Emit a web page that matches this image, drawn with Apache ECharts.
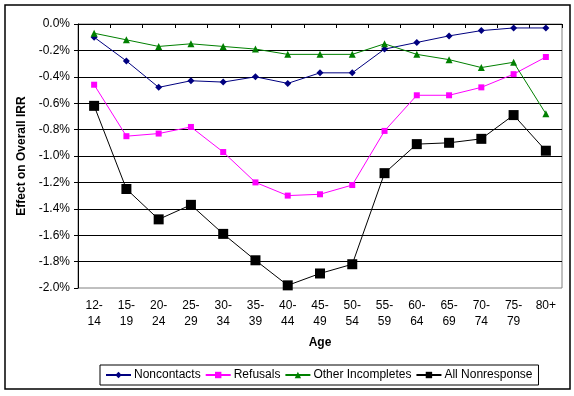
<!DOCTYPE html>
<html>
<head>
<meta charset="utf-8">
<script src="https://cdn.jsdelivr.net/npm/echarts@6/dist/echarts.min.js"></script>
<style>
  html, body { margin: 0; padding: 0; background: #fff; }
  #chart { width: 574px; height: 396px; }
</style>
</head>
<body>
<div id="chart"></div>
<script>
// age groups
const ages = ['12-\n14', '15-\n19', '20-\n24', '25-\n29', '30-\n34', '35-\n39', '40-\n44', '45-\n49',
  '50-\n54', '55-\n59', '60-\n64', '65-\n69', '70-\n74', '75-\n79', '80+']

// effect on overall IRR, in percent
const noncontacts = [-0.10, -0.28, -0.48, -0.43, -0.44, -0.40, -0.45, -0.37, -0.37, -0.19, -0.14, -0.09, -0.05, -0.03, -0.03]
const refusals = [-0.46, -0.85, -0.83, -0.78, -0.97, -1.20, -1.30, -1.29, -1.22, -0.81, -0.54, -0.54, -0.48, -0.38, -0.25]
const otherIncompletes = [-0.07, -0.12, -0.17, -0.15, -0.17, -0.19, -0.23, -0.23, -0.23, -0.15, -0.23, -0.27, -0.33, -0.29, -0.68]
const allNonresponse = [-0.62, -1.25, -1.48, -1.37, -1.59, -1.79, -1.98, -1.89, -1.82, -1.13, -0.91, -0.90, -0.87, -0.69, -0.96]

const yMin = -2.0
const yMax = 0
const yStep = 0.2

const font = 'Liberation Sans, Arial, sans-serif'

const chart = echarts.init(document.getElementById('chart'))

function lineSeries (name, data, color, symbol, size) {
  return {
    name: name,
    type: 'line',
    xAxisIndex: 1,
    data: data,
    symbol: symbol,
    symbolSize: size,
    showSymbol: true,
    itemStyle: { color: color },
    lineStyle: { color: color, width: 1 },
    emphasis: { disabled: true }
  }
}

const option = {
  animation: false,
  textStyle: { fontFamily: font },
  graphic: [{
    type: 'rect',
    shape: { x: 5, y: 5, width: 565, height: 384 },
    style: { fill: null, stroke: '#000', lineWidth: 1.5 },
    z: 100
  }],
  grid: {
    left: 78,
    top: 24,
    width: 484,
    height: 264,
    show: true,
    borderColor: '#808080',
    borderWidth: 1,
    backgroundColor: '#fff'
  },
  legend: {
    left: 100,
    top: 365,
    padding: [4, 6, 4, 5],
    itemGap: 4,
    itemWidth: 25,
    itemHeight: 8,
    borderColor: '#000',
    borderWidth: 1,
    textStyle: { color: '#000', fontSize: 12, fontFamily: font, padding: [0, 0, 0, -2] },
    data: ['Noncontacts', 'Refusals', 'Other Incompletes', 'All Nonresponse']
  },
  xAxis: [
    {
      type: 'category',
      position: 'top',
      data: ages,
      boundaryGap: true,
      axisLine: { show: true, lineStyle: { color: '#000', width: 1 } },
      axisTick: { show: true, inside: true, length: 4, lineStyle: { color: '#000' } },
      axisLabel: { show: false },
      splitLine: { show: false }
    },
    {
      type: 'category',
      position: 'bottom',
      data: ages,
      boundaryGap: true,
      axisLine: { show: false },
      axisTick: { show: false },
      axisLabel: { color: '#000', fontSize: 12, margin: 10, lineHeight: 16, interval: 0, fontFamily: font },
      name: 'Age',
      nameLocation: 'middle',
      nameGap: 49,
      nameTextStyle: { color: '#000', fontSize: 12, fontWeight: 'bold', fontFamily: font }
    }
  ],
  yAxis: {
    type: 'value',
    min: yMin,
    max: yMax,
    interval: yStep,
    axisLine: { show: true, lineStyle: { color: '#000' } },
    axisTick: { show: true, length: 4, lineStyle: { color: '#000' } },
    axisLabel: {
      color: '#000',
      fontSize: 12,
      margin: 8,
      fontFamily: font,
      formatter: v => v.toFixed(1) + '%'
    },
    splitLine: { show: true, showMinLine: false, lineStyle: { color: '#000', width: 1 } },
    name: 'Effect on Overall IRR',
    nameLocation: 'middle',
    nameGap: 46,
    nameTextStyle: { color: '#000', fontSize: 12, fontWeight: 'bold', fontFamily: font }
  },
  series: [
    lineSeries('Noncontacts', noncontacts, '#000080', 'diamond', 7),
    lineSeries('Refusals', refusals, '#FF00FF', 'rect', 6),
    lineSeries('Other Incompletes', otherIncompletes, '#008000', 'triangle', 7),
    lineSeries('All Nonresponse', allNonresponse, '#000000', 'rect', 10)
  ]
}

chart.setOption(option)
</script>
</body>
</html>
